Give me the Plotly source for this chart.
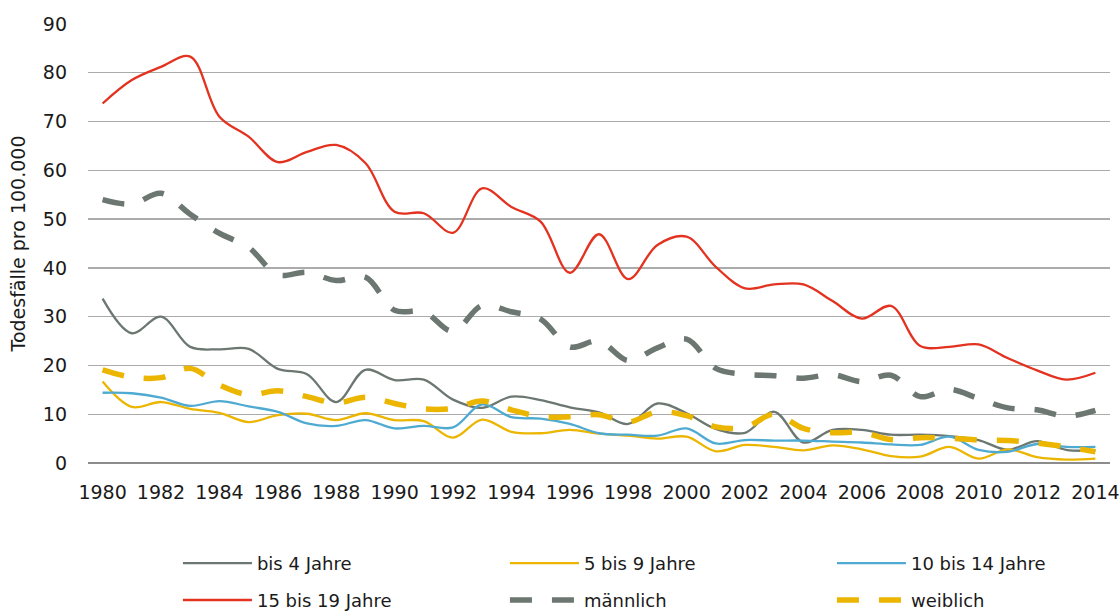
import plotly.graph_objects as go

years = list(range(1980, 2015))

bis4 = [33.7, 26.6, 30.0, 23.8, 23.3, 23.4, 19.3, 18.2, 12.5, 19.1,
        17.0, 17.1, 13.0, 11.3, 13.6, 12.9, 11.4, 10.4, 8.0, 12.2,
        10.2, 7.0, 6.2, 10.5, 4.2, 6.8, 6.8, 5.8, 5.8, 5.5,
        4.7, 2.7, 4.5, 2.7, 2.6]

bis9 = [16.7, 11.5, 12.5, 11.1, 10.3, 8.4, 9.8, 10.1, 8.8, 10.2,
        8.8, 8.6, 5.2, 8.9, 6.4, 6.1, 6.8, 6.0, 5.6, 5.0,
        5.4, 2.4, 3.7, 3.3, 2.6, 3.6, 2.8, 1.4, 1.3, 3.3,
        0.9, 2.8, 1.2, 0.7, 0.9]

bis14 = [14.4, 14.3, 13.4, 11.7, 12.7, 11.6, 10.5, 8.1, 7.6, 8.8,
         7.1, 7.6, 7.3, 12.0, 9.4, 9.1, 8.0, 6.1, 5.8, 5.6,
         7.1, 4.0, 4.7, 4.6, 4.6, 4.4, 4.2, 3.8, 3.7, 5.4,
         2.7, 2.3, 3.9, 3.3, 3.3]

bis19 = [73.7, 78.5, 81.2, 83.3, 71.0, 66.9, 61.7, 63.8, 65.2, 61.5,
         51.5, 51.2, 47.2, 56.3, 52.5, 49.5, 39.0, 46.9, 37.7, 44.7,
         46.4, 40.2, 35.8, 36.6, 36.6, 33.2, 29.6, 32.2, 24.0, 23.8,
         24.3, 21.5, 19.0, 17.1, 18.5]

maennlich = [54.0, 53.1, 55.3, 51.0, 47.1, 44.2, 38.6, 39.1, 37.4, 38.1,
             31.3, 31.0, 27.0, 32.3, 31.0, 29.5, 23.8, 25.0, 21.0, 23.6,
             25.4, 19.4, 18.2, 17.9, 17.4, 18.1, 16.7, 18.0, 13.6, 15.1,
             13.2, 11.3, 10.9, 9.6, 10.8]

weiblich = [19.1, 17.6, 17.5, 19.4, 16.0, 14.0, 14.8, 13.6, 12.3, 13.5,
            12.2, 11.1, 11.2, 12.7, 10.9, 9.5, 9.5, 9.9, 8.4, 10.5,
            9.7, 7.4, 7.3, 10.0, 7.1, 6.2, 6.3, 4.8, 5.2, 5.1,
            4.7, 4.6, 4.1, 3.3, 2.3]

labels = ["bis 4 Jahre", "5 bis 9 Jahre", "10 bis 14 Jahre",
          "15 bis 19 Jahre", "männlich", "weiblich"]
values = [bis4, bis9, bis14, bis19, maennlich, weiblich]
colors = ["#6B7770", "#EBB500", "#4EAAD1", "#E3321F", "#6B7770", "#EBB500"]
dashes = ["solid", "solid", "solid", "solid", "22px,20px", "22px,20px"]
widths = [2.3, 2.3, 2.3, 2.3, 5.5, 5.5]
legends = ["legend", "legend", "legend", "legend2", "legend2", "legend2"]

tick_years = list(range(1980, 2015, 2))

FONT = "DejaVu Sans"
TXT = "#1a1a1a"

fig = go.Figure()
for name, vals, col, dsh, w, lg in zip(labels, values, colors, dashes, widths, legends):
    fig.add_trace(go.Scatter(
        x=years, y=vals, name=name, mode="lines",
        line=dict(color=col, width=w, dash=dsh, shape="spline", smoothing=1.0),
        legend=lg, hoverinfo="skip",
    ))

leg_common = dict(
    orientation="h", xanchor="left", yanchor="top", x=0.088,
    itemwidth=69, entrywidth=243, entrywidthmode="pixels",
    font=dict(family=FONT, size=18, color=TXT),
    bgcolor="rgba(0,0,0,0)", borderwidth=0, traceorder="normal",
)

fig.update_layout(
    width=1120, height=613,
    paper_bgcolor="white", plot_bgcolor="white",
    margin=dict(l=88, r=10, t=24, b=150, autoexpand=False),
    font=dict(family=FONT, size=18, color=TXT),
    legend=dict(y=-0.1868, **leg_common),
    legend2=dict(y=-0.2706, **leg_common),
    xaxis=dict(
        range=[1979.5, 2014.5], tickmode="array", tickvals=tick_years,
        ticktext=[str(y) for y in tick_years],
        showgrid=False, zeroline=False, showline=False, ticks="",
        ticklabelstandoff=16, tickfont=dict(family=FONT, size=19, color=TXT),
    ),
    yaxis=dict(
        range=[0, 90], dtick=10, tick0=0,
        showgrid=True, gridcolor="#ABABAB", gridwidth=1.3,
        zeroline=True, zerolinecolor="#8C8C8C", zerolinewidth=2,
        showline=False, ticks="", ticklabelstandoff=20,
        tickfont=dict(family=FONT, size=19, color=TXT),
        title=dict(text="Todesfälle pro 100.000", standoff=12,
                   font=dict(family=FONT, size=19, color=TXT)),
    ),
)

fig.write_html(
    "out.html",
    config={"displayModeBar": False, "staticPlot": True},
    post_script="document.body.style.margin='0';document.body.style.padding='0';",
)
